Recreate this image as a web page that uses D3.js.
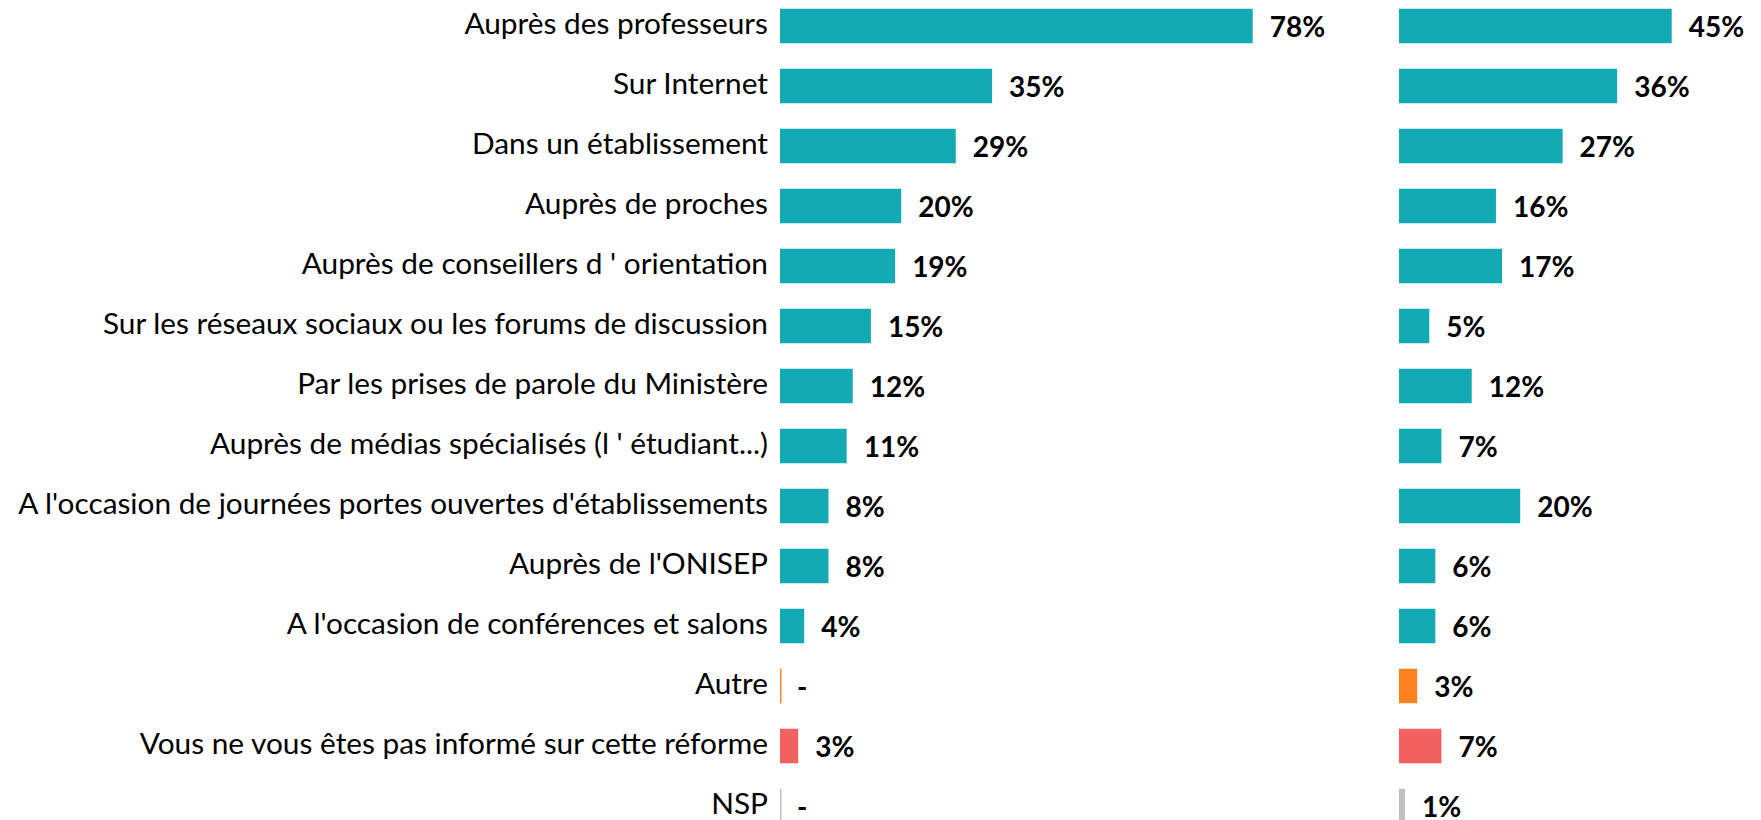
<!DOCTYPE html>
<html><head><meta charset="utf-8">
<script src="https://cdn.jsdelivr.net/npm/d3@7"></script>
<style>body{margin:0;background:#fff}svg{display:block}</style>
</head><body>
<script>
const categories = [
  "Auprès des professeurs",
  "Sur Internet",
  "Dans un établissement",
  "Auprès de proches",
  "Auprès de conseillers d ' orientation",
  "Sur les réseaux sociaux ou les forums de discussion",
  "Par les prises de parole du Ministère",
  "Auprès de médias spécialisés (l ' étudiant...)",
  "A l'occasion de journées portes ouvertes d'établissements",
  "Auprès de l'ONISEP",
  "A l'occasion de conférences et salons",
  "Autre",
  "Vous ne vous êtes pas informé sur cette réforme",
  "NSP"
];
const seriesLeft  = [78, 35, 29, 20, 19, 15, 12, 11, 8, 8, 4, 0, 3, 0];
const seriesRight = [45, 36, 27, 16, 17, 5, 12, 7, 20, 6, 6, 3, 7, 1];
const categoryColors = ["#13aab3","#13aab3","#13aab3","#13aab3","#13aab3","#13aab3","#13aab3","#13aab3","#13aab3","#13aab3","#13aab3","#ff8221","#f26060","#bfbfbf"];

const W = 1761, H = 820;
const svg = d3.select("body").append("svg").attr("width", W).attr("height", H);

const y = d3.scaleBand().domain(categories).range([-4, 836]).paddingInner(0.425).paddingOuter(0.2125);
const pxPerPct = 6.06;
const xL = d3.scaleLinear().domain([0, 100]).range([780, 780 + 100 * pxPerPct]);
const xR = d3.scaleLinear().domain([0, 100]).range([1399, 1399 + 100 * pxPerPct]);

const fmt = v => v === 0 ? "-" : d3.format("d")(v) + "%";

// category labels
svg.append("g").selectAll("text").data(categories).join("text")
  .attr("x", 768)
  .attr("y", d => y(d) + y.bandwidth() / 2 + 8)
  .attr("text-anchor", "end")
  .attr("font-family", "Lato, 'Open Sans', sans-serif")
  .attr("font-size", 29.8)
  .attr("fill", "#000")
  .text(d => d);

function panel(x, vals) {
  const g = svg.append("g");
  g.selectAll("rect").data(vals).join("rect")
    .attr("x", x(0))
    .attr("y", (d, i) => y(categories[i]))
    .attr("width", d => Math.max(x(d) - x(0), 1.5))
    .attr("height", y.bandwidth())
    .attr("fill", (d, i) => categoryColors[i]);
  g.selectAll("text").data(vals).join("text")
    .attr("x", d => x(d) + 17)
    .attr("y", (d, i) => y(categories[i]) + y.bandwidth() / 2 + 11)
    .attr("font-family", "Lato, 'Open Sans', sans-serif")
    .attr("font-weight", "bold")
    .attr("font-size", 28)
    .attr("fill", "#000")
    .text(fmt);
}
panel(xL, seriesLeft);
panel(xR, seriesRight);
</script>
</body></html>
